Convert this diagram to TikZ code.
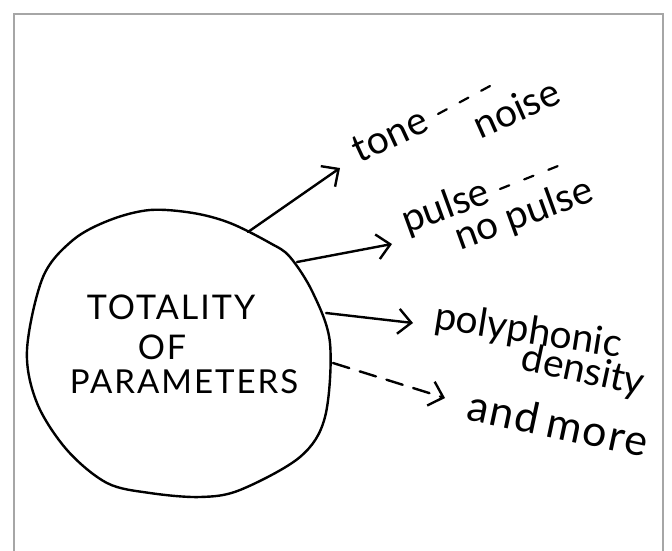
\documentclass[tikz,border=0pt]{standalone}
\usepackage{fontspec}
\setmainfont{Lato}
\newfontfamily\capsfont[LetterSpace=6]{Lato}
\newfontfamily\widefont[LetterSpace=4]{Lato}
\usetikzlibrary{arrows.meta}
\begin{document}
\begin{tikzpicture}[x=1pt,y=-1pt,
  ink/.style={line width=2.4pt, line cap=round, line join=round, black},
  conn/.style={ink, -{Straight Barb[length=13pt,width=25pt]}},
  dconn/.style={conn, dash pattern=on 17pt off 11pt},
  hand/.style={font=\fontsize{39}{39}\selectfont, inner sep=0pt},
  caps/.style={font=\capsfont\fontsize{34}{34}\selectfont, inner sep=0pt},
  sep/.style={ink, line width=2.2pt}]
\useasboundingbox (0,0) rectangle (672,551);
\fill[white] (0,0) rectangle (672,551);
\draw[line width=1.6pt, gray!70] (14,580) -- (14,14) -- (663,14) -- (663,580);

% circle outline
\draw[ink] plot[smooth cycle, tension=0.55] coordinates {
  (150,210) (193,213) (230,223) (270,243) (290,257) (313,293)
  (330,343) (325,417) (300,457) (240,490) (200,497) (150,493)
  (107,483) (67,450) (37,403) (27,350) (43,277) (73,240) (110,220)};

\node[caps] (t1) at (171,307) {TOTALITY};
\node[caps] (t2) at (162,347) {OF};
\node[caps, font=\capsfont\fontsize{33}{33}\selectfont] (t3) at (184,382) {PARAMETERS};

% arrow starts on the circle
\coordinate (s1) at (248,232);
\coordinate (s2) at (297,262);
\coordinate (s3) at (326,313);
\coordinate (s4) at (333,363);
\coordinate (e1) at (340,168);
\coordinate (e2) at (392,244);
\coordinate (e3) at (413,323);
\coordinate (e4) at (445,398);

\draw[conn] (s1) -- (e1);
\draw[conn] (s2) -- (e2);
\draw[conn] (s3) -- (e3);
\draw[dconn] (s4) -- (e4);

% labels
\node[hand, rotate=25] (tone) at (390,135) {tone};
\coordinate (d1a) at (438,114);
\coordinate (d1b) at (490,86);
\draw[sep, dash pattern=on 10pt off 14.5pt] (d1a) -- (d1b);
\node[hand, rotate=24] (noise) at (516,108) {noise};

\node[hand, rotate=20] (pulse) at (446,208) {pulse};
\coordinate (d2a) at (500,189);
\coordinate (d2b) at (558,166);
\draw[sep, dash pattern=on 10pt off 16pt] (d2a) -- (d2b);
\node[hand, rotate=20] (nopulse) at (524,215) {no pulse};

\node[hand, rotate=-9] (poly) at (528,332) {polyphonic};
\node[hand, rotate=-12] (dens) at (583,372) {density};
\node[hand, rotate=-12, font=\widefont\fontsize{43}{43}\selectfont] (more) at (558,423) {and\hspace{8pt}more};
\end{tikzpicture}
\end{document}
